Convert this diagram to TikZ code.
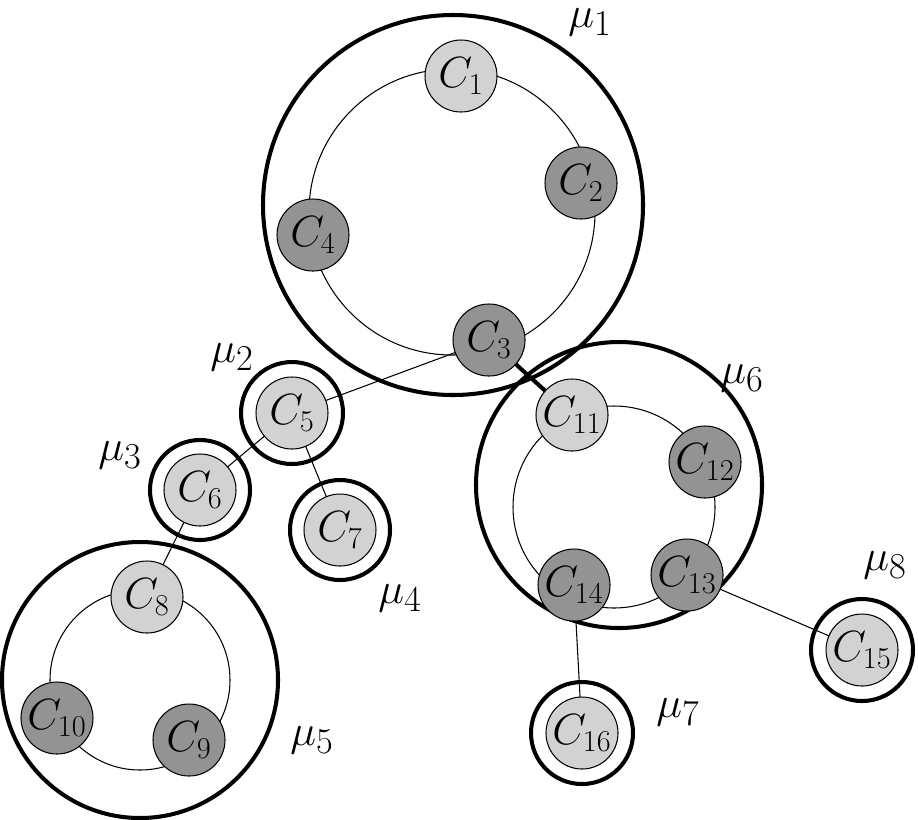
\documentclass[tikz,border=0pt]{standalone}
\begin{document}
\begin{tikzpicture}[x=0.02cm,y=-0.02cm,
  cl/.style={circle,draw,line width=0.6pt,fill=gray!35,minimum size=72*0.02cm,inner sep=0pt,font=\fontsize{24}{28}\selectfont},
  cd/.style={cl,fill=gray!85},
  ring/.style={draw,line width=2.3pt},
  inner/.style={draw,line width=0.6pt},
  thin/.style={line width=0.6pt},
  lab/.style={font=\fontsize{29}{32}\selectfont}]
\useasboundingbox (0,0) rectangle (918,819);
% big groups
\draw[ring] (453,205) circle (190);
\draw[inner] (452,212) circle (143);
\draw[ring] (619,485) circle (143);
\draw[inner] (614,507) circle (101);
\draw[ring] (140,680) circle (138);
\draw[inner] (140,680) circle (90);
% small rings
\draw[ring] (292,413) circle (51);
\draw[ring] (200,490) circle (50);
\draw[ring] (340,530) circle (50);
\draw[ring] (862,650) circle (51);
\draw[ring] (582,733) circle (51);
% edges
\coordinate (p3) at (489,340); \coordinate (p5) at (292,413);
\coordinate (p11) at (572,415); \coordinate (p6) at (200,490);
\coordinate (p7) at (340,530); \coordinate (p8) at (147,597);
\coordinate (p13) at (687,575); \coordinate (p15) at (862,650);
\coordinate (p14) at (574,585); \coordinate (p16) at (582,733);
\draw[thin] (p3)--(p5); \draw[line width=2.3pt] (p3)--(p11);
\draw[thin] (p5)--(p6); \draw[thin] (p5)--(p7); \draw[thin] (p6)--(p8);
\draw[thin] (p13)--(p15); \draw[thin] (p14)--(p16);
% nodes
\node[cl] (c1) at (461,76) {$C_1$};
\node[cd] (c2) at (581,183) {$C_2$};
\node[cd] (c3) at (p3) {$C_3$};
\node[cd] (c4) at (313,235) {$C_4$};
\node[cl] (c5) at (p5) {$C_5$};
\node[cl] (c6) at (p6) {$C_6$};
\node[cl] (c7) at (p7) {$C_7$};
\node[cl] (c8) at (p8) {$C_8$};
\node[cd] (c9) at (189,740) {$C_9$};
\node[cd] (c10) at (57,718) {$C_{10}$};
\node[cl] (c11) at (p11) {$C_{11}$};
\node[cd] (c12) at (705,462) {$C_{12}$};
\node[cd] (c13) at (p13) {$C_{13}$};
\node[cd] (c14) at (p14) {$C_{14}$};
\node[cl] (c15) at (p15) {$C_{15}$};
\node[cl] (c16) at (p16) {$C_{16}$};
% labels
\node[lab] (m1) at (590,22) {$\mu_1$};
\node[lab] (m2) at (232,357) {$\mu_2$};
\node[lab] (m3) at (120,455) {$\mu_3$};
\node[lab] (m4) at (400,598) {$\mu_4$};
\node[lab] (m5) at (312,740) {$\mu_5$};
\node[lab] (m6) at (742,378) {$\mu_6$};
\node[lab] (m7) at (678,712) {$\mu_7$};
\node[lab] (m8) at (885,565) {$\mu_8$};
\end{tikzpicture}
\end{document}
